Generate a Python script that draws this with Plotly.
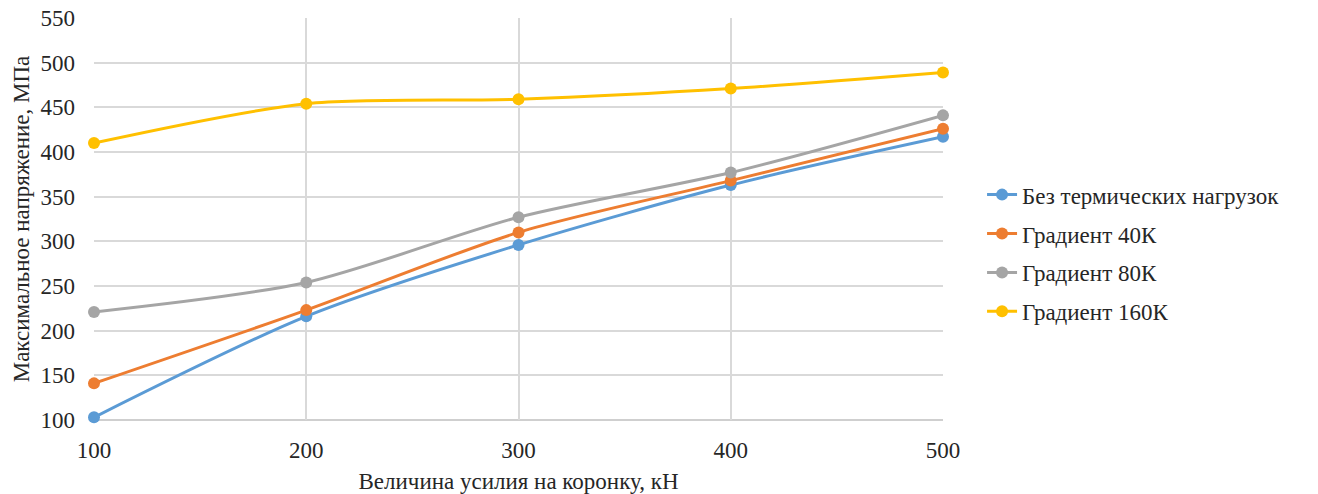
import plotly.graph_objects as go

# Load on the crown, kN
force_kn = [100, 200, 300, 400, 500]

# Maximum stress, MPa, for each thermal-load case
no_thermal = [103, 216, 296, 363, 417]
grad_40k = [141, 223, 310, 368, 426]
grad_80k = [221, 254, 327, 377, 441]
grad_160k = [410, 454, 459, 471, 489]

series_names = [
    "Без термических нагрузок",
    "Градиент 40К",
    "Градиент 80К",
    "Градиент 160К",
]
series_values = [no_thermal, grad_40k, grad_80k, grad_160k]
series_colors = ["#5B9BD5", "#ED7D31", "#A5A5A5", "#FFC000"]

font_family = "Liberation Serif"
text_color = "#262626"

fig = go.Figure()
for i, (name, vals, col) in enumerate(zip(series_names, series_values, series_colors)):
    fig.add_trace(go.Scatter(
        x=force_kn,
        y=vals,
        name=name,
        mode="lines+markers",
        line=dict(color=col, width=3, shape="spline", smoothing=0.8),
        marker=dict(color=col, size=12),
        cliponaxis=False,
        legendgroup=f"g{i}",
    ))

fig.update_layout(
    width=1318,
    height=494,
    margin=dict(l=94, r=375, t=18, b=74),
    paper_bgcolor="white",
    plot_bgcolor="white",
    font=dict(family=font_family, size=23, color=text_color),
    showlegend=True,
    legend=dict(
        x=1.046, xanchor="left",
        y=0.415, yanchor="middle",
        font=dict(family=font_family, size=23, color=text_color),
        tracegroupgap=6,
        traceorder="grouped",
        bgcolor="rgba(0,0,0,0)",
    ),
)

fig.update_xaxes(
    range=[100, 500],
    tickvals=force_kn,
    automargin=False,
    showgrid=True,
    gridcolor="#D9D9D9",
    gridwidth=1.5,
    zeroline=False,
    showline=False,
    ticks="",
    ticklabelstandoff=14,
    tickfont=dict(family=font_family, size=23, color=text_color),
    title=dict(text="Величина усилия на коронку, кН",
               font=dict(family=font_family, size=23, color=text_color), standoff=12),
)

fig.update_yaxes(
    range=[100, 550],
    dtick=50,
    automargin=False,
    showgrid=True,
    gridcolor="#D9D9D9",
    gridwidth=1.5,
    zeroline=False,
    showline=False,
    ticks="",
    ticklabelstandoff=18,
    tickfont=dict(family=font_family, size=23, color=text_color),
    title=dict(text="Максимальное напряжение, МПа",
               font=dict(family=font_family, size=23, color=text_color), standoff=4),
)

# Bottom border of the plotting area
fig.add_shape(type="line", xref="paper", yref="paper", x0=0, x1=1, y0=0, y1=0,
              line=dict(color="#BFBFBF", width=1.5), layer="below")

fig.write_html("out.html")
